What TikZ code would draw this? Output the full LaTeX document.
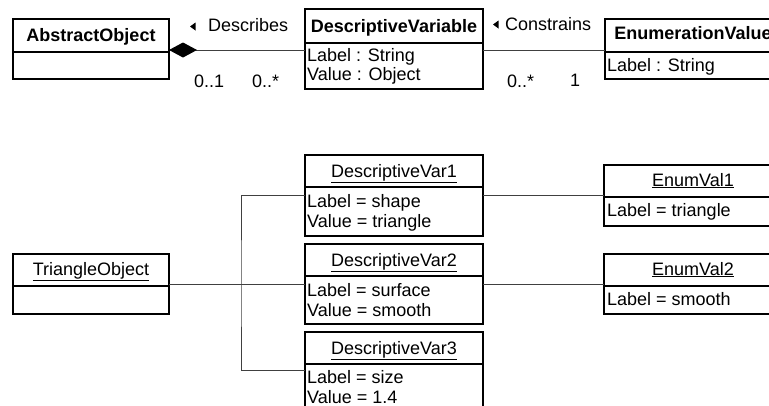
\documentclass[tikz,border=0pt]{standalone}
\usepackage{fontspec}
\setmainfont{Liberation Sans}
\usetikzlibrary{arrows.meta}
\begin{document}
\begin{tikzpicture}[x=1pt,y=-1pt,
  box/.style={draw=black,line width=1.6pt,inner sep=0pt,outer sep=0pt,anchor=north west},
  txt/.style={inner sep=0pt,anchor=base,font=\fontsize{18}{20}\selectfont},
  ttl/.style={inner sep=0pt,anchor=base,font=\fontsize{18}{20}\selectfont\bfseries},
  att/.style={inner sep=0pt,anchor=base west,font=\fontsize{18}{20}\selectfont},
  conn/.style={draw=black!75,line width=1pt},
  marker/.style={fill=black}]
\useasboundingbox (0,0) rectangle (769,405);
\clip (0,0) rectangle (769,405);

% ---------- class diagram ----------
\node[box,minimum width=156pt,minimum height=33pt] (aoH) at (13,19) {};
\node[box,minimum width=156pt,minimum height=27pt] (aoA) at (13,52) {};
\node[ttl] (aoT) at (91,41) {AbstractObject};

\node[box,minimum width=178pt,minimum height=34pt] (dvH) at (305,9) {};
\node[box,minimum width=178pt,minimum height=46pt] (dvA) at (305,43) {};
\node[ttl] (dvT) at (394,32) {DescriptiveVariable};
\node[att] (dvA1) at (307,61) {Label : String};
\node[att] (dvA2) at (307,80) {Value : Object};

\node[box,minimum width=176pt,minimum height=33pt] (evH) at (605,19) {};
\node[box,minimum width=176pt,minimum height=27pt] (evA) at (605,52) {};
\node[ttl] (evT) at (693,39.5) {EnumerationValue};
\node[att] (evA1) at (607,71) {Label : String};

\draw[conn,{Diamond[length=28pt,width=15pt,color=black,fill=black]}-]
  ([yshift=2pt]aoH.south east) -- ([yshift=2pt]aoH.south east -| dvA.west);
\draw[conn] ([yshift=2pt]aoH.south east -| dvA.east) -- ([yshift=2pt]evH.south west);

\fill[marker] (190,26.5) -- (195.5,22.5) -- (195.5,30.5) -- cycle;
\node[att] (lDesc) at (208,31.5) {Describes};
\node[att] (m1) at (194,87) {0..1};
\node[att] (m2) at (252,87) {0..*};

\fill[marker] (493,24.5) -- (498.5,20.5) -- (498.5,28.5) -- cycle;
\node[att] (lCons) at (505,30) {Constrains};
\node[att] (m3) at (507,87) {0..*};
\node[att] (m4) at (570,86.5) {1};

% ---------- object diagram ----------
\node[box,minimum width=156pt,minimum height=32pt] (toH) at (13,254) {};
\node[box,minimum width=156pt,minimum height=28pt] (toA) at (13,286) {};
\node[txt] (toT) at (91,275) {\underline{TriangleObject}};

\node[box,minimum width=178pt,minimum height=32pt] (dv1H) at (305,155) {};
\node[box,minimum width=178pt,minimum height=49pt] (dv1A) at (305,187) {};
\node[txt] (dv1T) at (394,177) {\underline{DescriptiveVar1}};
\node[att] (dv1L) at (307,207) {Label = shape};
\node[att] (dv1V) at (307,227) {Value = triangle};

\node[box,minimum width=178pt,minimum height=32pt] (dv2H) at (305,244) {};
\node[box,minimum width=178pt,minimum height=48pt] (dv2A) at (305,276) {};
\node[txt] (dv2T) at (394,266) {\underline{DescriptiveVar2}};
\node[att] (dv2L) at (307,296) {Label = surface};
\node[att] (dv2V) at (307,316) {Value = smooth};

\node[box,minimum width=178pt,minimum height=32pt] (dv3H) at (305,332) {};
\node[box,minimum width=178pt,minimum height=60pt] (dv3A) at (305,364) {};
\node[txt] (dv3T) at (394,354) {\underline{DescriptiveVar3}};
\node[att] (dv3L) at (307,383) {Label = size};
\node[att] (dv3V) at (307,403) {Value = 1.4};

\node[box,minimum width=177pt,minimum height=32pt] (ev1H) at (604,165) {};
\node[box,minimum width=177pt,minimum height=29pt] (ev1A) at (604,197) {};
\node[txt] (ev1T) at (693,186) {\underline{EnumVal1}};
\node[att] (ev1L) at (607,216) {Label = triangle};

\node[box,minimum width=177pt,minimum height=32pt] (ev2H) at (604,254) {};
\node[box,minimum width=177pt,minimum height=28pt] (ev2A) at (604,286) {};
\node[txt] (ev2T) at (693,275) {\underline{EnumVal2}};
\node[att] (ev2L) at (607,305) {Label = smooth};

\coordinate (trunk) at (241,284);
\draw[conn] ([yshift=2pt]toH.south east) -- ([yshift=-8pt]dv2H.south west);
\draw[conn] ([yshift=-8pt]dv1H.south west) -| (trunk) |- ([yshift=-6.5pt]dv3H.south west);
\draw[conn] ([yshift=-8pt]dv1H.south east) -- ([yshift=2pt]ev1H.south west);
\draw[conn] ([yshift=-8pt]dv2H.south east) -- ([yshift=2pt]ev2H.south west);
\end{tikzpicture}
\end{document}
